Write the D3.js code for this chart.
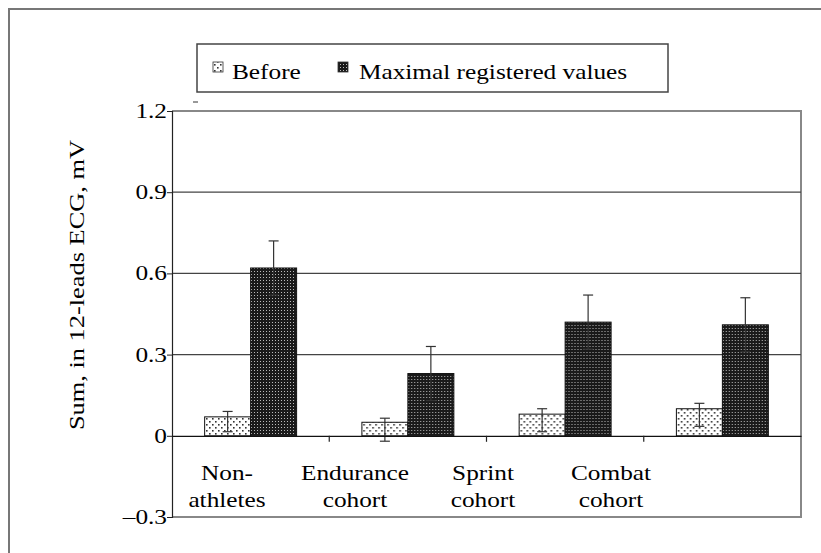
<!DOCTYPE html>
<html>
<head>
<meta charset="utf-8">
<script src="https://cdn.jsdelivr.net/npm/d3@7"></script>
<style>
  html, body { margin: 0; padding: 0; background: #fff; }
  svg { display: block; }
  text { font-family: "Liberation Serif", "Times New Roman", serif; fill: #000; }
</style>
</head>
<body>
<svg id="chart" width="821" height="553"></svg>
<script>
// ---------------- data ----------------
const categories = ["Non-athletes", "Endurance cohort", "Sprint cohort", "Combat cohort"];
const categoryLines = [["Non-", "athletes"], ["Endurance", "cohort"], ["Sprint", "cohort"], ["Combat", "cohort"]];
const seriesNames = ["Before", "Maximal registered values"];
const beforeValues = [0.07, 0.05, 0.08, 0.10];
const beforeErrUpper = [0.09, 0.065, 0.10, 0.12];
const beforeErrLower = [0.015, -0.02, 0.015, 0.035];
const maxValues = [0.62, 0.23, 0.42, 0.41];
const maxErrUpper = [0.72, 0.33, 0.52, 0.51];
const maxErrLower = [0.52, 0.13, 0.32, 0.31];
const yTicks = [-0.3, 0, 0.3, 0.6, 0.9, 1.2];
const yTickLabels = ["\u20130.3", "0", "0.3", "0.6", "0.9", "1.2"];
const yTitle = "Sum, in 12-leads ECG, mV";

// ---------------- layout ----------------
const svg = d3.select("#chart");
const plot = { left: 172, right: 801, top: 111, bottom: 517 };
const FS = 22, SX = 1.15;

const defs = svg.append("defs");
const pb = defs.append("pattern").attr("id", "patBefore").attr("patternUnits", "userSpaceOnUse")
  .attr("width", 6).attr("height", 6);
pb.append("rect").attr("width", 6).attr("height", 6).attr("fill", "#fff");
pb.append("rect").attr("x", 1).attr("y", 1).attr("width", 1.6).attr("height", 1.6).attr("fill", "#333");
pb.append("rect").attr("x", 4).attr("y", 4).attr("width", 1.6).attr("height", 1.6).attr("fill", "#333");

const pm = defs.append("pattern").attr("id", "patMax").attr("patternUnits", "userSpaceOnUse")
  .attr("width", 3).attr("height", 3);
pm.append("rect").attr("width", 3).attr("height", 3).attr("fill", "#1a1a1a");
pm.append("rect").attr("x", 1).attr("y", 1).attr("width", 1).attr("height", 1).attr("fill", "#bbb");

const fills = { "Before": "url(#patBefore)", "Maximal registered values": "url(#patMax)" };

function addText(parent, x, y, str, anchor, opts = {}) {
  const rot = opts.rotate ? ` rotate(${opts.rotate})` : "";
  return parent.append("text")
    .attr("transform", `translate(${x},${y})${rot} scale(${opts.sx || SX},1)`)
    .attr("text-anchor", anchor)
    .attr("font-size", opts.fs || FS)
    .text(str);
}

// outer frame
svg.append("rect").attr("x", 9).attr("y", 9).attr("width", 830).attr("height", 560)
  .attr("fill", "none").attr("stroke", "#777").attr("stroke-width", 2);

// scales
const y = d3.scaleLinear().domain([-0.3, 1.2]).range([plot.bottom, plot.top]);
const x0 = d3.scaleBand().domain(categories).range([plot.left, plot.right]).padding(0);
const x1 = d3.scaleBand().domain(seriesNames).range([0, x0.bandwidth()]).paddingInner(0).paddingOuter(0.71);
const xLabel = d3.scalePoint().domain(categories).range([227, 611]);

// plot frame (top/right/bottom grey)
svg.append("path")
  .attr("d", `M${plot.left},${plot.top}H${plot.right}V${plot.bottom}H${plot.left}`)
  .attr("fill", "none").attr("stroke", "#888").attr("stroke-width", 2);

// gridlines
svg.append("g").selectAll("line").data(yTicks.filter(t => t > 0 && t < 1.2)).join("line")
  .attr("x1", plot.left).attr("x2", plot.right)
  .attr("y1", d => y(d)).attr("y2", d => y(d))
  .attr("stroke", "#444").attr("stroke-width", 1.3);

// y axis
const yAxis = d3.axisLeft(y).tickValues(yTicks).tickSize(5).tickFormat("");
const yg = svg.append("g").attr("transform", `translate(${plot.left},0)`).call(yAxis);
yg.select(".domain").attr("stroke", "#222").attr("stroke-width", 1.2);
yg.selectAll(".tick line").attr("stroke", "#222");
yTicks.forEach((t, i) => addText(svg, plot.left - 5, y(t) + 7, yTickLabels[i], "end"));

// y title
addText(svg, 84, 285, yTitle, "middle", { rotate: -90, sx: 1.2 });

// bars
const groups = categories.map((c, i) => ({
  cat: c,
  bars: [
    { s: seriesNames[0], v: beforeValues[i], hi: beforeErrUpper[i], lo: beforeErrLower[i] },
    { s: seriesNames[1], v: maxValues[i], hi: maxErrUpper[i], lo: maxErrLower[i] }
  ]
}));

const gsel = svg.append("g").selectAll("g").data(groups).join("g")
  .attr("transform", d => `translate(${x0(d.cat)},0)`);

gsel.selectAll("rect").data(d => d.bars).join("rect")
  .attr("x", d => x1(d.s)).attr("width", x1.bandwidth())
  .attr("y", d => y(Math.max(0, d.v))).attr("height", d => Math.abs(y(d.v) - y(0)))
  .attr("fill", d => fills[d.s]).attr("stroke", "#111").attr("stroke-width", 1);

// error bars
const eb = gsel.selectAll("g.err").data(d => d.bars).join("g").attr("class", "err");
eb.append("line")
  .attr("x1", d => x1(d.s) + x1.bandwidth() / 2).attr("x2", d => x1(d.s) + x1.bandwidth() / 2)
  .attr("y1", d => y(d.hi)).attr("y2", d => y(d.lo))
  .attr("stroke", "#333").attr("stroke-width", 1.2);
["hi", "lo"].forEach(k => {
  eb.append("line")
    .attr("x1", d => x1(d.s) + x1.bandwidth() / 2 - 5).attr("x2", d => x1(d.s) + x1.bandwidth() / 2 + 5)
    .attr("y1", d => y(d[k])).attr("y2", d => y(d[k]))
    .attr("stroke", "#333").attr("stroke-width", 1.2);
});

// zero line with category ticks
const xAxis = d3.axisBottom(x0).tickSize(0).tickFormat("");
const xg = svg.append("g").attr("transform", `translate(0,${y(0)})`).call(xAxis);
xg.select(".domain").attr("stroke", "#111").attr("stroke-width", 1.2);
svg.append("g").selectAll("line").data(categories.slice(1)).join("line")
  .attr("x1", d => x0(d)).attr("x2", d => x0(d))
  .attr("y1", y(0)).attr("y2", y(0) + 6)
  .attr("stroke", "#222").attr("stroke-width", 1.2);

// category labels
categories.forEach((c, i) => {
  categoryLines[i].forEach((ln, j) => addText(svg, xLabel(c), 480 + j * 27, ln, "middle"));
});

// small dash mark above plot
svg.append("line").attr("x1", 193).attr("x2", 198).attr("y1", 102).attr("y2", 102)
  .attr("stroke", "#333").attr("stroke-width", 1);

// legend
const lg = svg.append("g");
lg.append("rect").attr("x", 197).attr("y", 44).attr("width", 471).attr("height", 48)
  .attr("fill", "#fff").attr("stroke", "#444").attr("stroke-width", 1.5);
const legendItems = [
  { s: seriesNames[0], sw: 213, tx: 232 },
  { s: seriesNames[1], sw: 338, tx: 359 }
];
legendItems.forEach(it => {
  lg.append("rect").attr("x", it.sw).attr("y", 62).attr("width", 10).attr("height", 10)
    .attr("fill", fills[it.s]).attr("stroke", "#333").attr("stroke-width", 0.8);
  addText(lg, it.tx, 79, it.s, "start");
});
</script>
</body>
</html>
